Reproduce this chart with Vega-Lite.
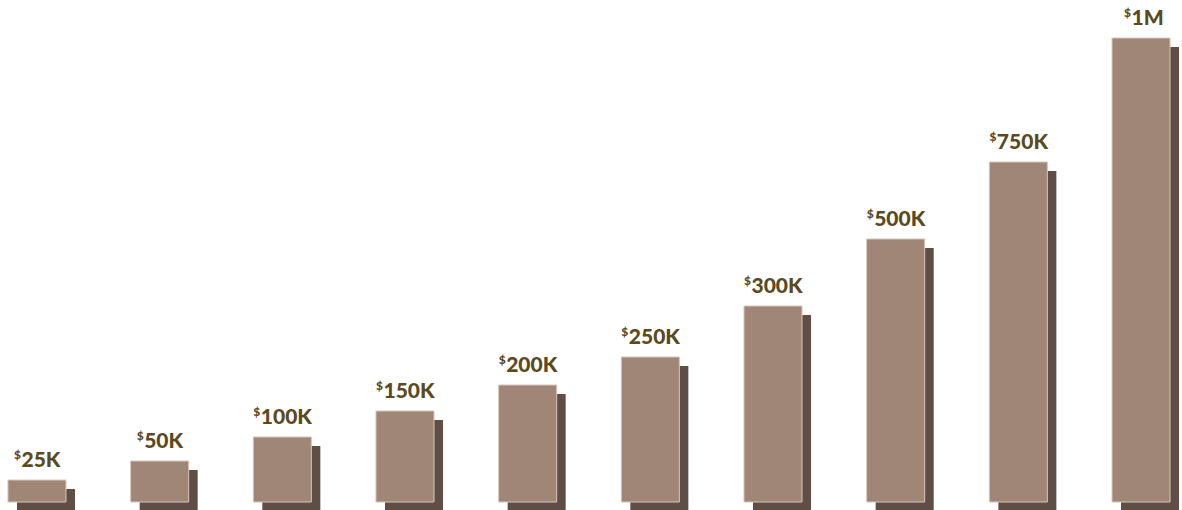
{
  "$schema": "https://vega.github.io/schema/vega-lite/v6.json",
  "width": 1178,
  "height": 502,
  "padding": {"left": 0, "top": 0, "right": 4, "bottom": 8},
  "background": "#ffffff",
  "config": {"view": {"stroke": null}},
  "data": {
    "values": [
      {"amount": "25K", "barHeight": 22},
      {"amount": "50K", "barHeight": 41},
      {"amount": "100K", "barHeight": 65},
      {"amount": "150K", "barHeight": 91},
      {"amount": "200K", "barHeight": 117},
      {"amount": "250K", "barHeight": 145},
      {"amount": "300K", "barHeight": 196},
      {"amount": "500K", "barHeight": 263},
      {"amount": "750K", "barHeight": 340},
      {"amount": "1M", "barHeight": 464}
    ]
  },
  "encoding": {
    "x": {
      "field": "amount",
      "type": "nominal",
      "sort": null,
      "axis": null,
      "scale": {"paddingInner": 0.527, "paddingOuter": 0.065}
    },
    "y": {
      "field": "barHeight",
      "type": "quantitative",
      "axis": null,
      "scale": {"domain": [0, 502], "nice": false, "zero": true}
    }
  },
  "layer": [
    {
      "mark": {"type": "bar", "color": "#5e4e46", "xOffset": 9, "yOffset": 9, "y2Offset": 9}
    },
    {
      "mark": {"type": "bar", "color": "#a08676", "stroke": "#d6c6ba", "strokeWidth": 1}
    },
    {
      "mark": {
        "type": "text",
        "align": "left",
        "baseline": "alphabetic",
        "dy": -13,
        "dx": {"expr": "-(7 + length(datum.amount) * 12) / 2 + 6"},
        "font": "Lato",
        "fontWeight": 900,
        "fontSize": 21,
        "color": "#5a4a1e"
      },
      "encoding": {"text": {"field": "amount"}}
    },
    {
      "mark": {
        "type": "text",
        "align": "right",
        "baseline": "alphabetic",
        "dy": -21,
        "dx": {"expr": "-(7 + length(datum.amount) * 12) / 2 + 5.5"},
        "font": "Lato",
        "fontWeight": 900,
        "fontSize": 12,
        "color": "#5a4a1e",
        "text": "$"
      }
    }
  ]
}
